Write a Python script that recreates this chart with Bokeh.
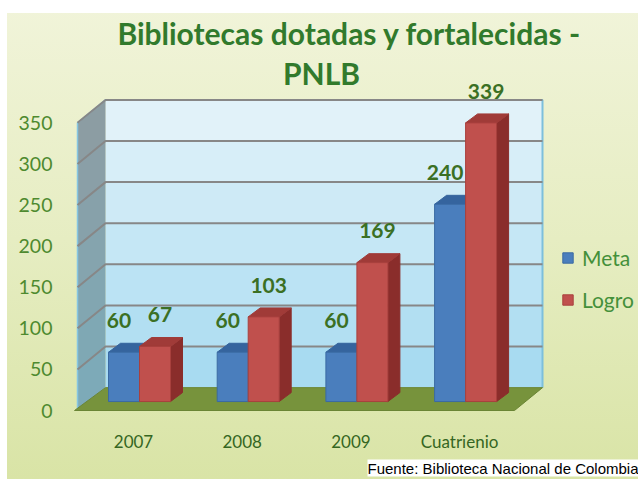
from bokeh.plotting import figure
from bokeh.models import (Range1d, FixedTicker, ColumnDataSource, Label, Legend,
                          LegendItem, Title)
from bokeh.core.properties import value
from bokeh.embed import file_html
from bokeh.resources import INLINE

# ---------------- data ----------------
categories = ["2007", "2008", "2009", "Cuatrienio"]
meta = [60, 60, 60, 240]
logro = [67, 103, 169, 339]
y_ticks = [0, 50, 100, 150, 200, 250, 300, 350]
series_names = ["Meta", "Logro"]
title_lines = ["Bibliotecas dotadas y fortalecidas -", "PNLB"]
source_note = "Fuente: Biblioteca Nacional de Colombia"

# ---------------- layout constants (pixels) ----------------
W, H = 638, 479
BL, BB = 60, 64
PX_X = 108.7        # px per category step
PX_Y = 0.826        # px per value unit
X0 = 133            # canvas x of category 0 (front plane)
Y0 = 412            # canvas y of value 0 (front plane)

frame_b = H - BB
x_range = Range1d((BL - X0) / PX_X, (W - X0) / PX_X)
y_range = Range1d((Y0 - frame_b) / PX_Y, (Y0 - 0) / PX_Y)

def ux(px):
    return px / PX_X

def uy(px):
    return px / PX_Y

# depth of the box (back plane offset)
DXB, DYB = ux(28), uy(23)
wall_x = ux(77 - X0)
wall_right = ux(542 - X0)
ymax = y_ticks[-1]

# bar geometry
bar_shift = ux(6)
bar_base = uy(9)
bw = ux(31)
ddx, ddy = ux(12), uy(9)

p = figure(width=W, height=H, x_range=x_range, y_range=y_range,
           output_backend="svg", toolbar_location=None,
           min_border_left=BL, min_border_bottom=BB, min_border_top=0,
           min_border_right=0)
p.background_fill_color = None
p.border_fill_color = None
p.outline_line_color = None
p.grid.visible = False
p.styles = {
    "background": ("linear-gradient(#ffffff,#ffffff) 0 0/100% 13px no-repeat, "
                   "linear-gradient(#ffffff,#ffffff) 0 0/7px 100% no-repeat, "
                   "linear-gradient(to bottom, #F1F4DA 0%, #E6EDC2 50%, #D9E4A6 100%)")
}

# ---- back wall (banded gradient) ----
top_c = (0xE6, 0xF4, 0xFA)
bot_c = (0xA4, 0xDA, 0xF1)
nb = len(y_ticks) - 1
bands = dict(left=[], right=[], bottom=[], top=[], color=[])
for k in range(nb):
    t = (k + 0.5) / nb
    c = tuple(int(bot_c[j] + (top_c[j] - bot_c[j]) * t) for j in range(3))
    bands["left"].append(wall_x + DXB)
    bands["right"].append(wall_right)
    bands["bottom"].append(y_ticks[k] + DYB)
    bands["top"].append(y_ticks[k + 1] + DYB)
    bands["color"].append("#%02x%02x%02x" % c)
p.quad(left="left", right="right", bottom="bottom", top="top", color="color",
       source=ColumnDataSource(bands), line_color=None)
p.line(x=[wall_x + DXB, wall_right, wall_right], y=[ymax + DYB, ymax + DYB, DYB],
       line_color="#7DBFDC", line_width=2)

# ---- left side wall ----
lw_top = (0x8E, 0x9C, 0xA2)
lw_bot = (0x7C, 0xAC, 0xBA)
lw = dict(xs=[], ys=[], color=[])
for k in range(nb):
    t = (k + 0.5) / nb
    c = tuple(int(lw_bot[j] + (lw_top[j] - lw_bot[j]) * t) for j in range(3))
    a, b = y_ticks[k], y_ticks[k + 1]
    lw["xs"].append([wall_x, wall_x, wall_x + DXB, wall_x + DXB])
    lw["ys"].append([a, b, b + DYB, a + DYB])
    lw["color"].append("#%02x%02x%02x" % c)
p.patches(xs="xs", ys="ys", color="color", source=ColumnDataSource(lw), line_color=None)
p.line(x=[wall_x + DXB, wall_x, wall_x], y=[ymax + DYB, ymax, 0],
       line_color="#86C6E2", line_width=1.5)

# ---- gridlines ----
gx = [[wall_x, wall_x + DXB, wall_right] for t in y_ticks[1:]]
gy = [[t, t + DYB, t + DYB] for t in y_ticks[1:]]
p.multi_line(xs=gx, ys=gy, line_color="#878787", line_width=2)

# ---- floor ----
p.patch(x=[wall_x - ux(3), wall_right - DXB, wall_right, wall_x + DXB],
        y=[0, 0, DYB, DYB], color="#77933C", line_color="#6A8535")

# ---- bars ----
renderers = []
faces = [("#4A7EBD", "#35649E", "#2E5A8E", "#3A6AA3"),
         ("#C0504D", "#A03B38", "#8A2D2B", "#A8403D")]
for s, vals in enumerate([meta, logro]):
    front, topc, sidec, edge = faces[s]
    d = dict(left=[], right=[], bottom=[], top=[])
    tx, ty, sx, sy = [], [], [], []
    for i, v in enumerate(vals):
        x0 = i + bar_shift - bw + s * bw
        x1 = x0 + bw
        b = bar_base
        t = bar_base + v
        d["left"].append(x0); d["right"].append(x1)
        d["bottom"].append(b); d["top"].append(t)
        tx.append([x0, x1, x1 + ddx, x0 + ddx]); ty.append([t, t, t + ddy, t + ddy])
        sx.append([x1, x1, x1 + ddx, x1 + ddx]); sy.append([b, t, t + ddy, b + ddy])
    p.patches(xs=sx, ys=sy, fill_color=sidec, line_color=sidec)
    p.patches(xs=tx, ys=ty, fill_color=topc, line_color=topc)
    r = p.quad(left="left", right="right", bottom="bottom", top="top",
               source=ColumnDataSource(d), fill_color=front, line_color=edge)
    renderers.append(r)

# ---- value labels ----
lab = dict(x=[], y=[], text=[])
for s, vals in enumerate([meta, logro]):
    for i, v in enumerate(vals):
        cx = i + bar_shift - bw / 2 + s * bw
        lab["x"].append(cx + (ux(-5) if s == 0 else ux(5)))
        lab["y"].append(bar_base + v + uy(32))
        lab["text"].append(str(v))
p.text(x="x", y="y", text="text", source=ColumnDataSource(lab),
       text_font=value("Lato"), text_font_style="bold", text_font_size="21px",
       text_color="#3B7024", text_align="center", text_baseline="middle")

# ---- title ----
tcol = "#317A2C"
p.add_layout(Label(x=ux(349 - X0), y=uy(Y0 - 33), text=title_lines[0],
                   text_font="Lato", text_font_style="bold", text_font_size="30px",
                   text_color=tcol, text_align="center", text_baseline="middle"))
p.add_layout(Label(x=ux(321 - X0), y=uy(Y0 - 73), text=title_lines[1],
                   text_font="Lato", text_font_style="bold", text_font_size="30px",
                   text_color=tcol, text_align="center", text_baseline="middle"))

# ---- axes ----
for ax in (p.xaxis[0], p.yaxis[0]):
    ax.axis_line_color = None
    ax.major_tick_line_color = None
    ax.minor_tick_line_color = None
    ax.major_tick_out = 0
    ax.major_tick_in = 0
    ax.minor_tick_out = 0
    ax.minor_tick_in = 0

p.yaxis.ticker = FixedTicker(ticks=y_ticks)
p.yaxis.major_label_standoff = 8
p.yaxis.major_label_text_font = "Lato"
p.yaxis.major_label_text_font_size = "19.5px"
p.yaxis.major_label_text_color = "#4E8A2F"

p.xaxis.ticker = FixedTicker(ticks=list(range(len(categories))))
p.xaxis.major_label_overrides = {i: c for i, c in enumerate(categories)}
p.xaxis.major_label_standoff = 17
p.xaxis.major_label_text_font = "Lato"
p.xaxis.major_label_text_font_size = "17px"
p.xaxis.major_label_text_color = "#35662200"[:7]

# ---- legend ----
legend = Legend(items=[LegendItem(label=series_names[k], renderers=[renderers[k]])
                       for k in range(2)],
                location=(501, 101), orientation="vertical",
                glyph_width=13, glyph_height=13, label_standoff=8, spacing=17,
                padding=0, margin=0, label_height=20,
                background_fill_alpha=0, border_line_color=None,
                label_text_font="Lato", label_text_font_size="21px",
                label_text_color="#44903A")
p.add_layout(legend)

# ---- source note ----
p.add_layout(Title(text=source_note, align="right", text_font="Liberation Sans",
                   text_font_size="15px", text_font_style="normal",
                   text_color="black", background_fill_color="white",
                   standoff=6), "below")

open("out.html", "w").write(file_html(p, INLINE))
